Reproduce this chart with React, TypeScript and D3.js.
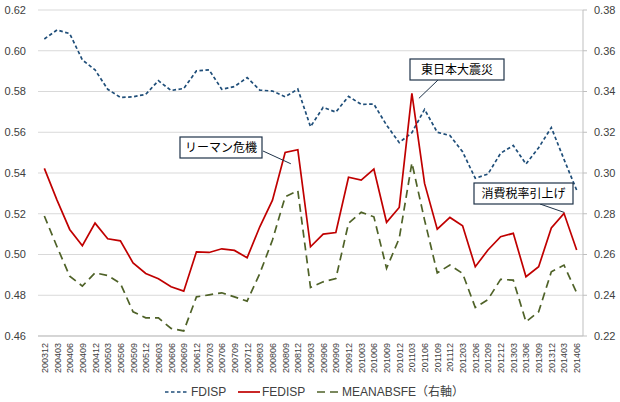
import React from "react";
import * as d3 from "d3";

const categories = [
  "200312","200403","200406","200409","200412","200503","200506","200509","200512","200603","200606","200609",
  "200612","200703","200706","200709","200712","200803","200806","200809","200812","200903","200906","200909",
  "200912","201003","201006","201009","201012","201103","201106","201109","201112","201203","201206","201209",
  "201212","201303","201306","201309","201312","201403","201406"
];

const fdisp = [
  0.6058, 0.6102, 0.6084, 0.5955, 0.5906, 0.5811, 0.5771, 0.5774, 0.5786, 0.5853, 0.5805, 0.5815,
  0.5901, 0.5906, 0.5811, 0.5824, 0.5868, 0.5807, 0.5802, 0.5774, 0.5812, 0.5627, 0.5722, 0.5699,
  0.5776, 0.5737, 0.5738, 0.5635, 0.5549, 0.5598, 0.5712, 0.5600, 0.5584, 0.5504, 0.5374, 0.5395,
  0.5497, 0.5535, 0.5444, 0.5524, 0.5623, 0.5467, 0.5316
];

const fedisp = [
  0.5423, 0.5267, 0.5123, 0.5043, 0.5154, 0.5077, 0.5067, 0.4959, 0.4907, 0.4881, 0.4842, 0.4820,
  0.5013, 0.5010, 0.5028, 0.5020, 0.4984, 0.5136, 0.5267, 0.5501, 0.5514, 0.5038, 0.5100, 0.5108,
  0.5379, 0.5365, 0.5419, 0.5158, 0.5231, 0.5791, 0.5349, 0.5124, 0.5182, 0.5141, 0.4940, 0.5022,
  0.5087, 0.5104, 0.4891, 0.4940, 0.5130, 0.5202, 0.5022
];

const meanabsfe = [
  0.2789, 0.2638, 0.2494, 0.2445, 0.2510, 0.2497, 0.2458, 0.2319, 0.2289, 0.2289, 0.2237, 0.2225,
  0.2392, 0.2402, 0.2412, 0.2392, 0.2371, 0.2507, 0.2671, 0.2883, 0.2913, 0.2438, 0.2466, 0.2482,
  0.2753, 0.2807, 0.2785, 0.2532, 0.2679, 0.3050, 0.2769, 0.2510, 0.2548, 0.2507, 0.2340, 0.2379,
  0.2478, 0.2474, 0.2270, 0.2319, 0.2515, 0.2548, 0.2412
];

const leftTicks = [0.46, 0.48, 0.50, 0.52, 0.54, 0.56, 0.58, 0.60, 0.62];
const rightTicks = [0.22, 0.24, 0.26, 0.28, 0.30, 0.32, 0.34, 0.36, 0.38];

const annotations = [
  { label: "リーマン危機", index: 20 },
  { label: "東日本大震災", index: 29 },
  { label: "消費税率引上げ", index: 41 },
];

const W = 620, H = 402;
const L = 38, R = 583, T = 10, B = 336;
const FONT = "'Liberation Sans', Arial, 'Noto Sans CJK JP', sans-serif";
const JFONT = "'Noto Sans CJK JP', 'Liberation Sans', sans-serif";

export default function App() {
  const x = d3.scaleBand<string>().domain(categories).range([L, R]).paddingInner(0).paddingOuter(0);
  const cx = (i: number) => (x(categories[i]) as number) + x.bandwidth() / 2;
  const yL = d3.scaleLinear().domain([0.46, 0.62]).range([B, T]);
  const yR = d3.scaleLinear().domain([0.22, 0.38]).range([B, T]);

  const lineL = d3.line<number>().x((_, i) => cx(i)).y((d) => yL(d));
  const lineR = d3.line<number>().x((_, i) => cx(i)).y((d) => yR(d));

  // callout box layout and pointer offsets relative to the annotated point
  const boxes = [
    { x0: 180, y0: 137, w: 82, h: 21, lx0: 263, ly0: 151, dx: -7, dy: 14 },
    { x0: 410, y0: 59, w: 94, h: 21, lx0: 438, ly0: 80, dx: 7, dy: 5 },
    { x0: 474, y0: 183, w: 99, h: 21, lx0: 540, ly0: 204, dx: 0, dy: -1 },
  ];

  return (
    <svg width={W} height={H} style={{ position: "absolute", left: 0, top: 0, background: "#fff" }}>
      <rect width={W} height={H} fill="#fff" />
      {leftTicks.map((t) => (
        <line key={"g" + t} x1={L} x2={R} y1={yL(t)} y2={yL(t)} stroke="#d9d9d9" strokeWidth={1} />
      ))}
      <line x1={L} x2={R} y1={B} y2={B} stroke="#bfbfbf" strokeWidth={1} />
      <line x1={R} x2={R} y1={T} y2={B} stroke="#bfbfbf" strokeWidth={1} />
      {rightTicks.map((t) => (
        <line key={"rt" + t} x1={R} x2={R + 4} y1={yR(t)} y2={yR(t)} stroke="#bfbfbf" strokeWidth={1} />
      ))}
      {leftTicks.map((t) => (
        <text key={"l" + t} x={26} y={yL(t)} dy="0.35em" textAnchor="end" fontSize={11} fill="#404040" fontFamily={FONT}>
          {t.toFixed(2)}
        </text>
      ))}
      {rightTicks.map((t) => (
        <text key={"r" + t} x={594} y={yR(t)} dy="0.35em" textAnchor="start" fontSize={11} fill="#404040" fontFamily={FONT}>
          {t.toFixed(2)}
        </text>
      ))}
      {categories.map((c, i) => (
        <text
          key={c}
          transform={`translate(${cx(i) + 3.5},${B + 7}) rotate(-90)`}
          textAnchor="end"
          fontSize={9}
          fill="#404040"
          fontFamily={FONT}
        >
          {c}
        </text>
      ))}

      <path d={lineL(fdisp) || ""} fill="none" stroke="#1f4e79" strokeWidth={1.7} strokeDasharray="3.5,2.5" />
      <path d={lineL(fedisp) || ""} fill="none" stroke="#c00000" strokeWidth={1.7} />
      <path d={lineR(meanabsfe) || ""} fill="none" stroke="#4f6228" strokeWidth={1.7} strokeDasharray="8,5" />

      {annotations.map((a, k) => {
        const b = boxes[k];
        const px = cx(a.index) + b.dx;
        const py = yL(fedisp[a.index]) + b.dy;
        return (
          <g key={a.label}>
            <line x1={b.lx0} y1={b.ly0} x2={px} y2={py} stroke="#1f3349" strokeWidth={1} />
            <rect x={b.x0} y={b.y0} width={b.w} height={b.h} fill="#fff" stroke="#1f3349" strokeWidth={1.2} />
            <text x={b.x0 + b.w / 2} y={b.y0 + b.h / 2} dy="0.36em" textAnchor="middle" fontSize={12} fill="#000" fontFamily={JFONT}>
              {a.label}
            </text>
          </g>
        );
      })}

      {/* legend */}
      <g fontFamily={FONT} fontSize={12} fill="#404040">
        <line x1={165} x2={189} y1={392} y2={392} stroke="#1f4e79" strokeWidth={1.7} strokeDasharray="3.5,2.5" />
        <text x={191} y={392} dy="0.35em">FDISP</text>
        <line x1={238} x2={260} y1={392} y2={392} stroke="#c00000" strokeWidth={1.7} />
        <text x={262} y={392} dy="0.35em">FEDISP</text>
        <line x1={317} x2={340} y1={392} y2={392} stroke="#4f6228" strokeWidth={1.7} strokeDasharray="8,5" />
        <text x={342} y={392} dy="0.35em">MEANABSFE<tspan fontFamily={JFONT}>（右軸）</tspan></text>
      </g>
    </svg>
  );
}
